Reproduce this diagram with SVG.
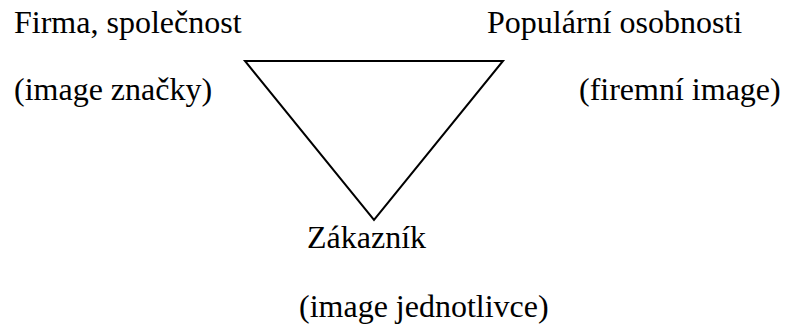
<svg xmlns="http://www.w3.org/2000/svg" width="785" height="327" viewBox="0 0 785 327">
<style>
text{font-family:"Liberation Serif","Times New Roman","DejaVu Serif",serif;font-size:32px;fill:#000}
.edge{fill:none;stroke:#000;stroke-width:2}
</style>
<rect width="785" height="327" fill="#fff"/>
<g id="connectors">
<polygon class="edge" points="245,61 503,61 374,220"/>
</g>
<g id="firma"><text x="14" y="33">Firma, společnost</text><text x="14" y="100">(image značky)</text></g>
<g id="popularni"><text x="487" y="33">Populární osobnosti</text><text x="579" y="100">(firemní image)</text></g>
<g id="zakaznik"><text x="307" y="248">Zákazník</text><text x="299" y="317">(image jednotlivce)</text></g>
</svg>
